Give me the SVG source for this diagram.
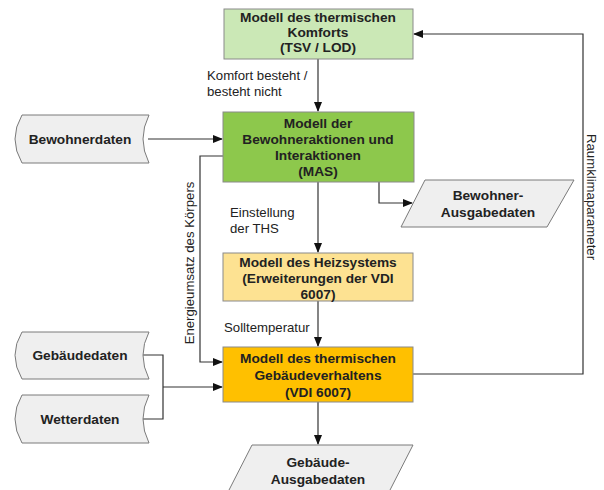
<svg xmlns="http://www.w3.org/2000/svg" width="604" height="490" viewBox="0 0 604 490">
<style>
.box{stroke:#8a8a8a;stroke-width:1}
.data{fill:#efefef;stroke:#7a7a7a;stroke-width:1}
.t{font-family:"Liberation Sans",Arial,sans-serif;font-size:13.7px;font-weight:bold;fill:#222;text-anchor:middle}
.l{font-family:"Liberation Sans",Arial,sans-serif;font-size:13.2px;fill:#222}
.c{fill:none;stroke:#333;stroke-width:1.2;marker-end:url(#a)}
.p{fill:none;stroke:#333;stroke-width:1.2}
</style>
<defs>
<marker id="a" markerWidth="10" markerHeight="8" refX="9" refY="4" orient="auto" markerUnits="userSpaceOnUse">
<path d="M0,0 L10,4 L0,8 Z" fill="#111"/>
</marker>
</defs>
<rect width="604" height="490" fill="#fff"/>
<g id="connectors">
<path class="c" d="M318,59 L318,111"/>
<path class="c" d="M148,139 L222,139"/>
<path class="c" d="M318,182 L318,252"/>
<path class="c" d="M379,172 L379,203 L412,203"/>
<path class="c" d="M223,156 L200,156 L200,362 L222,362"/>
<path class="c" d="M318,301 L318,346"/>
<path class="p" d="M143,355 L163,355 L163,419 L143,419"/>
<path class="c" d="M163,387 L222,387"/>
<path class="c" d="M318,402 L318,444"/>
<path class="c" d="M413,374 L583,374 L583,34 L414,34"/>
</g>
<g id="n-komfort">
<rect class="box" x="224" y="9" width="189" height="50" fill="#cbe8b6"/>
<text class="t" x="318" y="22">Modell des thermischen</text>
<text class="t" x="318" y="37">Komforts</text>
<text class="t" x="318" y="52">(TSV / LOD)</text>
</g>
<g id="lbl-komfort">
<text class="l" x="207" y="80">Komfort besteht /</text>
<text class="l" x="207" y="96">besteht nicht</text>
</g>
<g id="n-bewohnerdaten">
<path class="data" d="M22,115 L149,115 Q137,139 149,163 L22,163 Q8,139 22,115 Z"/>
<text class="t" x="80" y="144">Bewohnerdaten</text>
</g>
<g id="n-mas">
<rect class="box" x="223" y="112" width="191" height="70" fill="#8dc84c"/>
<text class="t" x="318" y="128">Modell der</text>
<text class="t" x="318" y="144">Bewohneraktionen und</text>
<text class="t" x="318" y="160">Interaktionen</text>
<text class="t" x="318" y="176">(MAS)</text>
</g>
<g id="n-bewohner-aus">
<path class="data" d="M425,180 L574,180 L547,227 L401,227 Z"/>
<text class="t" x="488" y="200">Bewohner-</text>
<text class="t" x="488" y="217">Ausgabedaten</text>
</g>
<g id="lbl-ths">
<text class="l" x="230" y="217">Einstellung</text>
<text class="l" x="230" y="233">der THS</text>
</g>
<g id="lbl-energie">
<text class="l" transform="translate(194,263) rotate(-90)" text-anchor="middle">Energieumsatz des Körpers</text>
</g>
<g id="n-heiz">
<rect class="box" x="223" y="253" width="190" height="48" fill="#fde292"/>
<text class="t" x="318" y="267">Modell des Heizsystems</text>
<text class="t" x="318" y="283">(Erweiterungen der VDI</text>
<text class="t" x="318" y="299">6007)</text>
</g>
<g id="lbl-soll">
<text class="l" x="224" y="332">Solltemperatur</text>
</g>
<g id="n-gebaeude">
<rect class="box" x="223" y="347" width="190" height="55" fill="#ffc000"/>
<text class="t" x="318" y="363">Modell des thermischen</text>
<text class="t" x="318" y="380">Gebäudeverhaltens</text>
<text class="t" x="318" y="397">(VDI 6007)</text>
</g>
<g id="n-gebaeudedaten">
<path class="data" d="M22,332 L149,332 Q137,355 149,379 L22,379 Q8,355 22,332 Z"/>
<text class="t" x="80" y="360">Gebäudedaten</text>
</g>
<g id="n-wetterdaten">
<path class="data" d="M22,395 L149,395 Q137,419 149,443 L22,443 Q8,419 22,395 Z"/>
<text class="t" x="80" y="424">Wetterdaten</text>
</g>
<g id="n-gebaeude-aus">
<path class="data" d="M252,445 L413,445 L389,492 L228,492 Z"/>
<text class="t" x="318" y="467">Gebäude-</text>
<text class="t" x="318" y="484">Ausgabedaten</text>
</g>
<g id="lbl-raum">
<text class="l" transform="translate(587,197) rotate(90)" text-anchor="middle">Raumklimaparameter</text>
</g>
</svg>
